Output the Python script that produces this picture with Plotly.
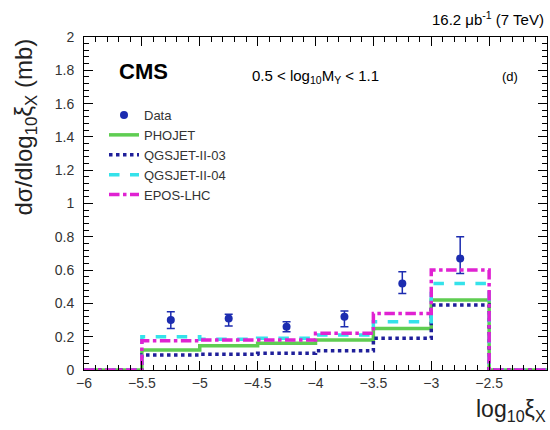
import plotly.graph_objects as go

# bin edges and model predictions (step histograms)
edges = [-6.0, -5.5, -5.0, -4.5, -4.0, -3.5, -3.0, -2.5, -2.0]
phojet = [0.0, 0.12, 0.145, 0.16, 0.18, 0.25, 0.42, 0.0]
qgs03 = [0.0, 0.09, 0.095, 0.10, 0.115, 0.19, 0.39, 0.0]
qgs04 = [0.0, 0.20, 0.185, 0.19, 0.21, 0.29, 0.52, 0.0]
epos = [0.0, 0.175, 0.18, 0.18, 0.22, 0.34, 0.60, 0.0]

# data points
data_x = [-5.25, -4.75, -4.25, -3.75, -3.25, -2.75]
data_y = [0.30, 0.31, 0.26, 0.32, 0.52, 0.67]
err_up = [0.05, 0.025, 0.03, 0.035, 0.07, 0.13]
err_dn = [0.05, 0.045, 0.03, 0.06, 0.06, 0.09]

FONT = "Liberation Sans, Arial, sans-serif"

fig = go.Figure()

fig.add_trace(go.Scatter(
    x=data_x, y=data_y, mode="markers", name="Data",
    marker=dict(color="#1c2cb0", size=8),
    error_y=dict(type="data", symmetric=False, array=err_up, arrayminus=err_dn,
                 color="#1c2cb0", thickness=1.5, width=4),
))

def step(vals, name, color, dash, width):
    fig.add_trace(go.Scatter(
        x=edges, y=vals + [vals[-1]], mode="lines", name=name,
        line=dict(shape="hv", color=color, dash=dash, width=width),
    ))

step(phojet, "PHOJET", "#5fcd52", "solid", 3.5)
step(qgs03, "QGSJET-II-03", "#1f1f9a", "dot", 3.5)
step(qgs04, "QGSJET-II-04", "#35e2ea", "dash", 3.5)
step(epos, "EPOS-LHC", "#e022d2", "dashdot", 3.5)

axis_common = dict(
    showgrid=False, zeroline=False, showline=True, linecolor="black", linewidth=1,
    mirror="allticks", ticks="inside", ticklen=9, tickcolor="black",
    tickfont=dict(family=FONT, size=14, color="#333333"),
)

fig.update_xaxes(range=[-6, -2], dtick=0.5, tick0=-6,
                 minor=dict(dtick=0.1, ticks="inside", ticklen=5, tickcolor="black", showgrid=False),
                 **axis_common)
fig.update_yaxes(range=[0, 2], dtick=0.2, tick0=0, ticklabelstandoff=6,
                 minor=dict(dtick=0.04, ticks="inside", ticklen=5, tickcolor="black", showgrid=False),
                 **axis_common)

L, R = 84, 547
W = R - L
ann = [
    dict(text="<b>CMS</b>", x=117, y=71, font=dict(size=22, color="black"), xanchor="left"),
    dict(text="0.5 &lt; log<sub>10</sub>M<sub>Y</sub> &lt; 1.1", x=250, y=77, font=dict(size=15, color="black"), xanchor="left"),
    dict(text="(d)", x=510, y=76, font=dict(size=13, color="black"), xanchor="center"),
    dict(text="16.2 \u03bcb<sup>-1</sup> (7 TeV)", x=546, y=18, font=dict(size=15, color="black"), xanchor="right"),
    dict(text="log<sub>10</sub>\u03be<sub>X</sub>", x=548, y=410, font=dict(size=23, color="#222222"), xanchor="right"),
]
annotations = []
for a in ann:
    annotations.append(dict(
        text=a["text"], xref="paper", yref="paper",
        x=(a["x"] - L) / W, y=(370 - a["y"]) / 333,
        xanchor=a["xanchor"], yanchor="middle", showarrow=False,
        font=dict(family=FONT, **a["font"]),
    ))
annotations.append(dict(
    text="d\u03c3/dlog<sub>10</sub>\u03be<sub>X</sub> (mb)", xref="paper", yref="paper",
    x=(25 - L) / W, y=1.0, xanchor="center", yanchor="top", textangle=-90,
    showarrow=False, font=dict(family=FONT, size=24, color="#222222"),
))

fig.update_layout(
    width=550, height=430,
    margin=dict(l=L, r=550 - R, t=37, b=60),
    paper_bgcolor="white", plot_bgcolor="white",
    showlegend=True,
    legend=dict(x=(104 - L) / W, y=(370 - 100) / 333, xanchor="left", yanchor="top",
                bgcolor="rgba(0,0,0,0)", font=dict(family=FONT, size=13, color="#333333"),
                itemwidth=30, tracegroupgap=0),
    annotations=annotations,
    font=dict(family=FONT),
)

fig.write_html("out.html")
